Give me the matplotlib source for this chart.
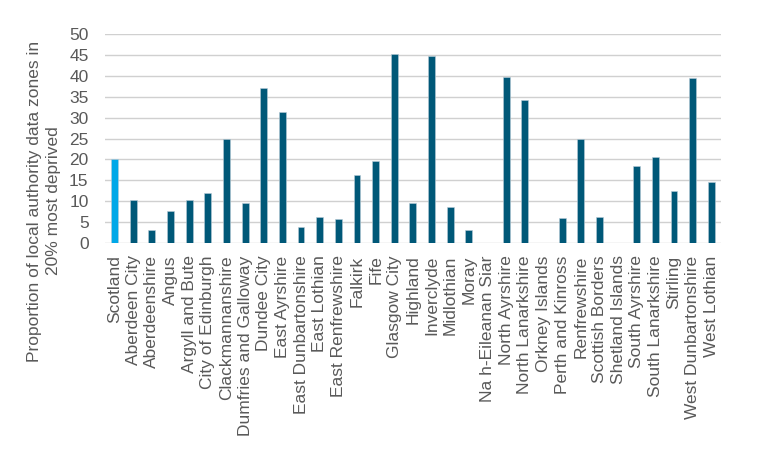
import matplotlib
matplotlib.use('Agg')
import matplotlib.pyplot as plt

plt.rcParams['font.family'] = ['Liberation Sans', 'DejaVu Sans']

AREAS = ['Scotland', 'Aberdeen City', 'Aberdeenshire', 'Angus', 'Argyll and Bute',
         'City of Edinburgh', 'Clackmannanshire', 'Dumfries and Galloway',
         'Dundee City', 'East Ayrshire', 'East Dunbartonshire', 'East Lothian',
         'East Renfrewshire', 'Falkirk', 'Fife', 'Glasgow City', 'Highland',
         'Inverclyde', 'Midlothian', 'Moray', 'Na h-Eileanan Siar',
         'North Ayrshire', 'North Lanarkshire', 'Orkney Islands',
         'Perth and Kinross', 'Renfrewshire', 'Scottish Borders',
         'Shetland Islands', 'South Ayrshire', 'South Lanarkshire', 'Stirling',
         'West Dunbartonshire', 'West Lothian']
PCT_DEPRIVED = [20.1, 10.2, 3.2, 7.7, 10.4, 11.9, 25.0, 9.5, 37.2, 31.3, 3.8, 6.1,
                5.7, 16.3, 19.6, 45.3, 9.6, 44.7, 8.7, 3.2, 0.0, 39.8, 34.2, 0.0,
                6.0, 24.9, 6.3, 0.0, 18.4, 20.5, 12.4, 39.6, 14.6]

TEXT = '#595959'
FS = 12.5
colors = ['#00a8e8' if a == 'Scotland' else '#005878' for a in AREAS]

fig = plt.figure(figsize=(7.57, 4.61), dpi=100)
ax = fig.add_axes([0.139, 0.473, 0.813, 0.453])

ax.bar(range(len(AREAS)), PCT_DEPRIVED, width=0.37, color=colors,
       edgecolor='#b8cbd6', linewidth=0.4, zorder=3)

ax.set_xlim(-0.5, len(AREAS) - 0.5)
ax.set_ylim(0, 50)
ax.set_yticks(range(0, 51, 5))
ax.yaxis.grid(True, color='#d0d0d0', linewidth=1.0, zorder=0)
ax.set_axisbelow(True)
for s in ax.spines.values():
    s.set_visible(False)

ax.set_xticks(range(len(AREAS)))
ax.set_xticklabels(AREAS, rotation=90, fontsize=FS, color=TEXT)
ax.tick_params(axis='x', length=0, pad=9)
ax.tick_params(axis='y', length=0, pad=12, labelsize=FS, labelcolor=TEXT)

# y label sits lower than the axes centre in the original
fig.text(44 / 757, 1 - 201 / 461,
         'Proportion of local authority data zones in\n20% most deprived',
         rotation=90, ha='center', va='center', multialignment='center',
         fontsize=FS, color=TEXT, linespacing=1.3)

fig.savefig('out.png', dpi=100)
